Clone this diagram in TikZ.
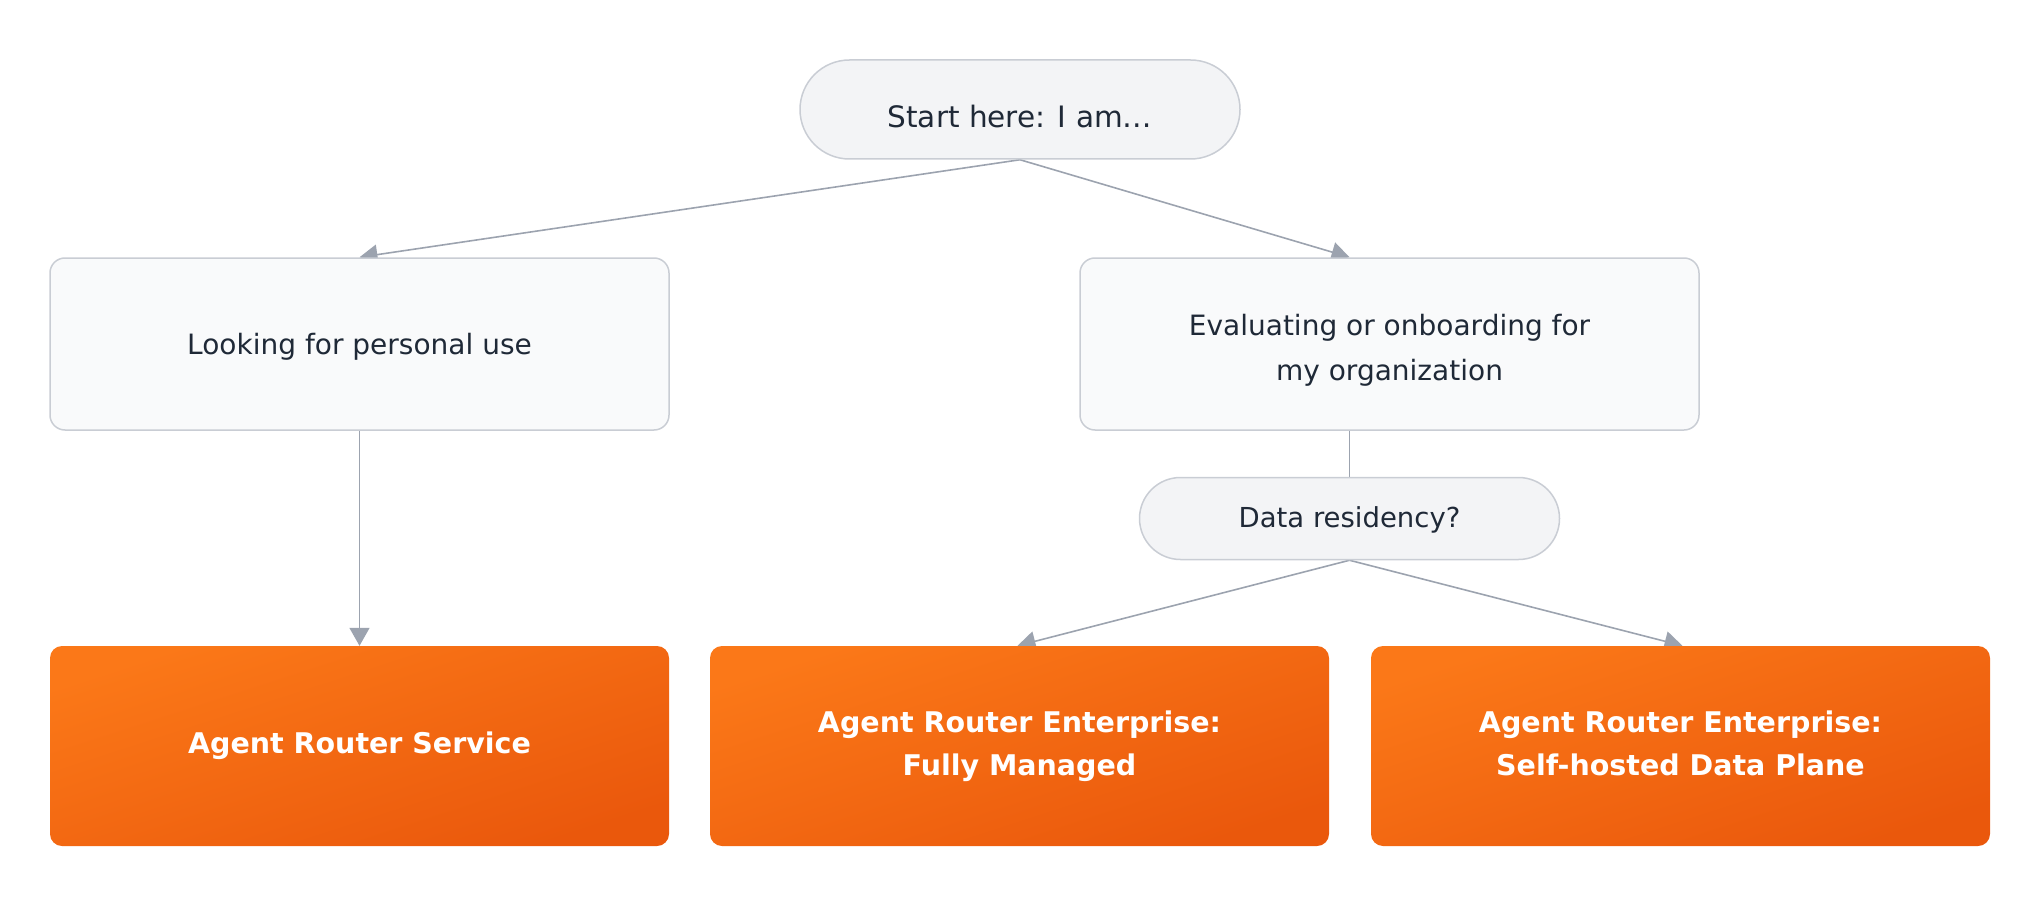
\documentclass[tikz,border=0pt]{standalone}
\usepackage{fontspec}
\setmainfont{DejaVu Sans}
\usetikzlibrary{arrows.meta,backgrounds}
\definecolor{txt}{HTML}{1F2937}
\definecolor{bordergrey}{HTML}{C9CDD4}
\definecolor{rectfill}{HTML}{F9FAFB}
\definecolor{pillfill}{HTML}{F3F4F6}
\definecolor{edgegrey}{HTML}{9CA3AF}
\definecolor{orangeA}{HTML}{FB7818}
\definecolor{orangeB}{HTML}{EA580C}
\tikzset{
  choice/.style={draw=bordergrey, line width=1.5pt, fill=rectfill, rounded corners=15pt,
    minimum width=619pt, minimum height=172pt, inner sep=0pt},
  pill/.style={draw=bordergrey, line width=1.5pt, fill=pillfill, inner sep=0pt},
  lbl/.style={inner sep=0pt, align=center, text=txt, font=\fontsize{28}{45}\selectfont},
  result/.style={top color=orangeA, bottom color=orangeB, shading angle=18, rounded corners=12pt,
    minimum width=619pt, minimum height=200pt, inner sep=0pt, align=center, text=white,
    font=\fontsize{28.5}{43}\selectfont\bfseries},
  edge/.style={draw=edgegrey, line width=1.6pt},
  arrowedge/.style={edge, -{Triangle[length=18pt,width=20pt]}, edgegrey}
}
\begin{document}
\begin{tikzpicture}[x=1pt,y=-1pt]
\useasboundingbox (0,0) rectangle (2040,920);
\node[pill, rounded corners=49.5pt, minimum width=440pt, minimum height=99pt] (start) at (1020,109.5) {};
\node[lbl, font=\fontsize{29.5}{40}\selectfont] (startlbl) at ([yshift=-7.5pt]start.center) {Start here: I am…};
\node[choice] (personal) at (359.5,344) {};
\node[lbl] (personallbl) at ([yshift=-2.5pt]personal.center) {Looking for personal use};
\node[choice] (org) at (1389.5,344) {};
\node[lbl] (orglbl) at ([yshift=-6pt]org.center) {Evaluating or onboarding for\\my organization};
\node[pill, rounded corners=41pt, minimum width=420pt, minimum height=82pt] (dr) at (1349.5,518.5) {};
\node[lbl, font=\fontsize{27.5}{36}\selectfont] (drlbl) at ([yshift=-1pt]dr.center) {Data residency?};
\node[result] (svc) at (359.5,746) {Agent Router Service};
\node[result] (ent1) at (1019.5,746) {Agent Router Enterprise:\\Fully Managed};
\node[result] (ent2) at (1680.5,746) {Agent Router Enterprise:\\Self-hosted Data Plane\vphantom{y}};
\begin{pgfonlayer}{background}
\draw[arrowedge] (start.south) -- (personal.north);
\draw[arrowedge] (start.south) -- ([xshift=-40pt]org.north);
\draw[arrowedge] (personal.south) -- (svc.north);
\draw[edge] (dr.north |- org.south) -- (dr.north);
\draw[arrowedge] (dr.south) -- ([xshift=-2pt]ent1.north);
\draw[arrowedge] (dr.south) -- ([xshift=2pt]ent2.north);
\end{pgfonlayer}
\end{tikzpicture}
\end{document}
